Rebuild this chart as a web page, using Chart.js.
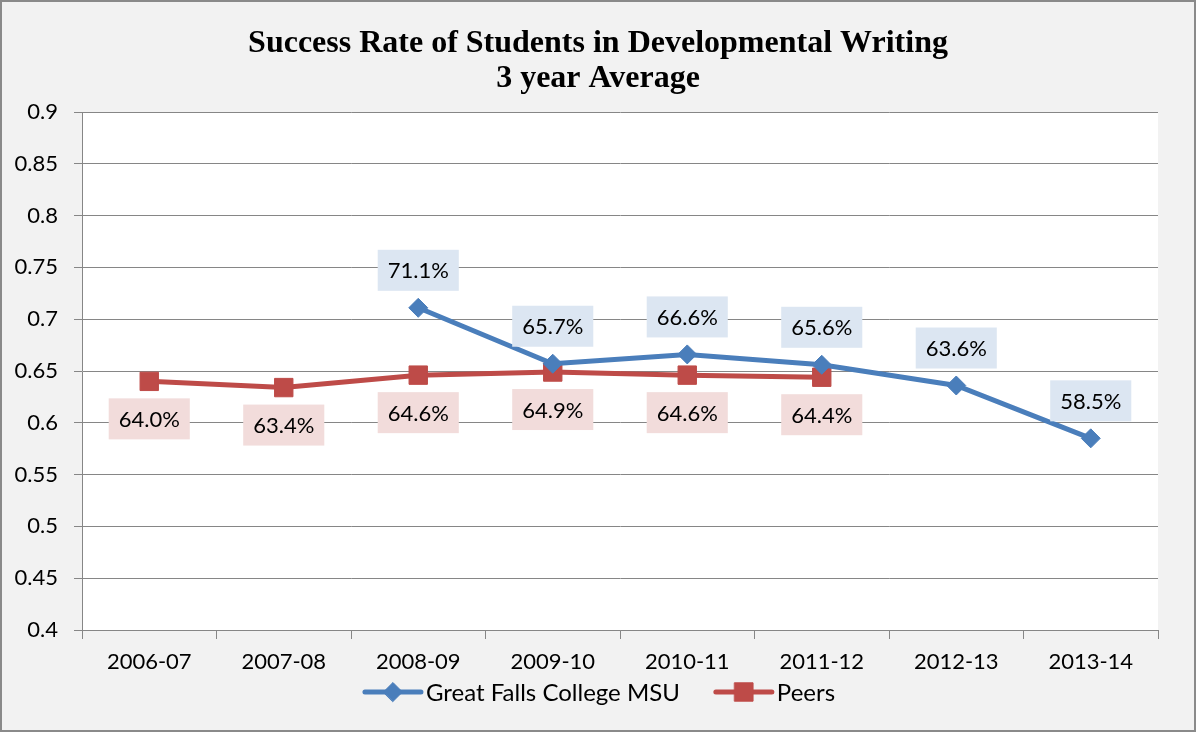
<!DOCTYPE html>
<html>
<head>
<meta charset="utf-8">
<title>Success Rate of Students in Developmental Writing</title>
<script src="https://cdn.jsdelivr.net/npm/chart.js@4.4.1/dist/chart.umd.min.js"></script>
<style>
  html, body { margin: 0; padding: 0; background: #f2f2f2; }
  #wrap { width: 1196px; height: 732px; position: relative; }
</style>
</head>
<body>
<div id="wrap"><canvas id="chart" width="1196" height="732"></canvas></div>
<script>
// Chart data
const years = ['2006-07', '2007-08', '2008-09', '2009-10', '2010-11', '2011-12', '2012-13', '2013-14'];
const greatFalls = [null, null, 0.711, 0.657, 0.666, 0.656, 0.636, 0.585];
const peers = [0.640, 0.634, 0.646, 0.649, 0.646, 0.644, null, null];
const yTickLabels = ['0.4', '0.45', '0.5', '0.55', '0.6', '0.65', '0.7', '0.75', '0.8', '0.85', '0.9'];
const titleLines = ['Success Rate of Students in Developmental Writing', '3 year Average'];
const seriesNames = ['Great Falls College MSU', 'Peers'];

const BLUE = '#4a7ebb';
const RED = '#be4b48';
const GRID = '#868686';
const FONT = 'Lato, "Open Sans", sans-serif';

// Grey frame + white plot area
const backgroundPlugin = {
    id: 'bg',
    beforeDraw(chart) {
        const ctx = chart.ctx;
        const a = chart.chartArea;
        ctx.save();
        ctx.fillStyle = '#f2f2f2';
        ctx.fillRect(0, 0, chart.width, chart.height);
        ctx.fillStyle = '#ffffff';
        ctx.fillRect(a.left, a.top, a.right - a.left, a.bottom - a.top);
        ctx.restore();
    },
    afterDraw(chart) {
        const ctx = chart.ctx;
        ctx.save();
        ctx.strokeStyle = '#8a8a8a';
        ctx.lineWidth = 2;
        ctx.strokeRect(1, 1, chart.width - 2, chart.height - 2);
        ctx.restore();
    }
};

// Two line title in Times bold
const titlePlugin = {
    id: 'title2',
    afterDraw(chart) {
        const ctx = chart.ctx;
        ctx.save();
        ctx.fillStyle = '#000';
        ctx.font = 'bold 32px "Liberation Serif", "Times New Roman", serif';
        ctx.textAlign = 'center';
        ctx.textBaseline = 'middle';
        const cx = chart.width / 2;
        ctx.fillText(titleLines[0], cx, 44);
        ctx.fillText(titleLines[1], cx, 79);
        ctx.restore();
    }
};

// Boxed value labels: blue above the point, red below
const labelPlugin = {
    id: 'valueLabels',
    afterDatasetsDraw(chart) {
        const ctx = chart.ctx;
        ctx.save();
        ctx.font = '22px ' + FONT;
        ctx.textAlign = 'center';
        ctx.textBaseline = 'middle';
        chart.data.datasets.forEach((ds, di) => {
            const meta = chart.getDatasetMeta(di);
            meta.data.forEach((pt, i) => {
                const v = ds.data[i];
                if (v === null || v === undefined) return;
                const txt = (v * 100).toFixed(1) + '%';
                const w = ctx.measureText(txt).width + 20;
                const h = 41;
                const cy = di === 0 ? pt.y - 37.5 : pt.y + 37.5;
                ctx.fillStyle = di === 0 ? '#dce6f2' : '#f2dcdb';
                ctx.fillRect(pt.x - w / 2, cy - h / 2, w, h);
                ctx.fillStyle = '#000';
                ctx.fillText(txt, pt.x, cy + 1);
            });
        });
        ctx.restore();
    }
};

// Excel style legend: line with marker through it
const legendPlugin = {
    id: 'lineLegend',
    afterDraw(chart) {
        const ctx = chart.ctx;
        ctx.save();
        ctx.font = '24px ' + FONT;
        ctx.textBaseline = 'middle';
        const lineLen = 56, gap = 5, between = 36;
        const widths = seriesNames.map(n => lineLen + gap + ctx.measureText(n).width);
        const total = widths[0] + between + widths[1];
        let x = (chart.width - total) / 2 + 2;
        const y = 692;
        chart.data.datasets.forEach((ds, di) => {
            ctx.strokeStyle = ds.borderColor;
            ctx.lineWidth = 5;
            ctx.lineCap = 'round';
            ctx.beginPath();
            ctx.moveTo(x, y);
            ctx.lineTo(x + lineLen, y);
            ctx.stroke();
            ctx.fillStyle = ds.borderColor;
            ctx.strokeStyle = ds.borderColor;
            ctx.lineWidth = 1;
            Chart.helpers.drawPoint(ctx, {
                pointStyle: ds.pointStyle,
                radius: ds.pointRadius,
                borderWidth: 1,
                rotation: 0
            }, x + lineLen / 2, y);
            ctx.fillStyle = '#000';
            ctx.fillText(seriesNames[di], x + lineLen + gap, y + 1);
            x += widths[di] + between;
        });
        ctx.restore();
    }
};

new Chart(document.getElementById('chart'), {
    type: 'line',
    data: {
        labels: years,
        datasets: [
            {
                label: seriesNames[0],
                data: greatFalls,
                borderColor: BLUE,
                backgroundColor: BLUE,
                borderWidth: 5,
                pointStyle: 'rectRot',
                pointRadius: 9.5,
                pointBorderWidth: 1,
                spanGaps: false,
                tension: 0
            },
            {
                label: seriesNames[1],
                data: peers,
                borderColor: RED,
                backgroundColor: RED,
                borderWidth: 5,
                pointStyle: 'rect',
                pointRadius: 13,
                pointBorderWidth: 1,
                spanGaps: false,
                tension: 0
            }
        ]
    },
    options: {
        responsive: false,
        animation: false,
        events: [],
        layout: { padding: { top: 112, right: 38, left: 0, bottom: 0 } },
        plugins: {
            legend: { display: false },
            title: { display: false },
            tooltip: { enabled: false }
        },
        scales: {
            x: {
                offset: true,
                afterFit(scale) { scale.height = 102; },
                grid: {
                    offset: true,
                    drawOnChartArea: false,
                    drawTicks: true,
                    tickLength: 9,
                    color: GRID,
                    lineWidth: 1
                },
                border: { display: true, color: GRID, width: 1 },
                ticks: {
                    color: '#000',
                    font: { family: FONT, size: 22 },
                    padding: 10,
                    maxRotation: 0,
                    autoSkip: false
                }
            },
            y: {
                min: 0.4,
                max: 0.9,
                afterFit(scale) { scale.width = 82; },
                grid: {
                    color: GRID,
                    lineWidth: 1,
                    drawTicks: true,
                    tickLength: 8
                },
                border: { display: true, color: GRID, width: 1 },
                ticks: {
                    stepSize: 0.05,
                    color: '#000',
                    font: { family: FONT, size: 22 },
                    padding: 16,
                    callback: (v, i) => yTickLabels[i]
                }
            }
        }
    },
    plugins: [backgroundPlugin, titlePlugin, labelPlugin, legendPlugin]
});
</script>
</body>
</html>
